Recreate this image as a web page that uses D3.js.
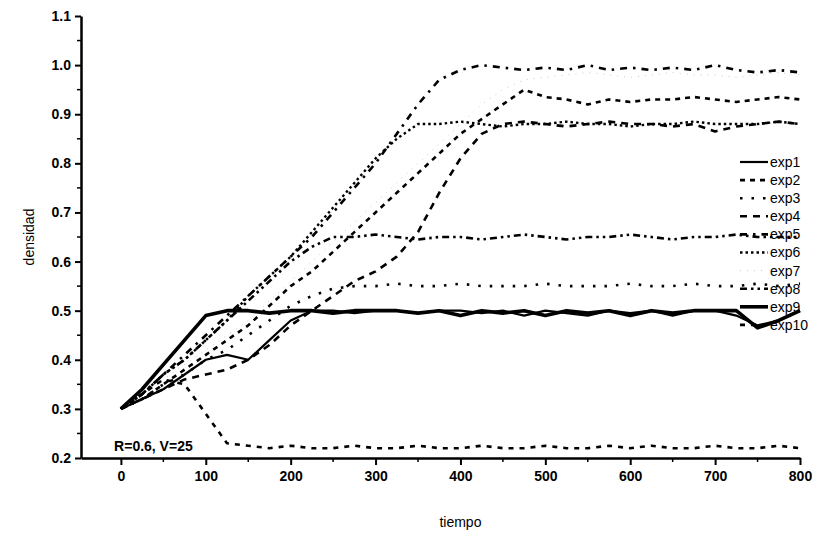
<!DOCTYPE html>
<html>
<head>
<meta charset="utf-8">
<script src="https://cdn.jsdelivr.net/npm/d3@7"></script>
<style>
  body { margin: 0; background: #fff; }
  svg text { font-family: "Liberation Sans", Arial, sans-serif; fill: #000; }
  .tick-label { font-size: 14px; font-weight: bold; }
  .axis-title { font-size: 14px; }
  .legend-label { font-size: 14px; }
</style>
</head>
<body>
<div id="chart"></div>
<script>
// Data (tiempo on x, densidad on y)
const tiempo = [0,25,50,75,100,125,150,175,200,225,250,275,300,325,350,375,400,
  425,450,475,500,525,550,575,600,625,650,675,700,725,750,775,800];

const exp1 = [0.30,0.32,0.34,0.37,0.40,0.41,0.40,0.44,0.48,0.50,0.50,0.495,0.50,0.50,0.495,0.50,0.50,
  0.495,0.50,0.49,0.50,0.495,0.49,0.50,0.495,0.50,0.49,0.50,0.50,0.49,0.47,0.48,0.50];
const exp2 = [0.30,0.32,0.35,0.38,0.41,0.44,0.47,0.51,0.55,0.58,0.62,0.66,0.70,0.74,0.78,0.82,0.86,
  0.89,0.92,0.95,0.935,0.93,0.92,0.93,0.925,0.93,0.93,0.935,0.93,0.925,0.93,0.935,0.93];
const exp3 = [0.30,0.32,0.35,0.37,0.40,0.42,0.45,0.48,0.51,0.53,0.545,0.55,0.55,0.555,0.55,0.55,0.555,
  0.55,0.55,0.55,0.555,0.55,0.55,0.55,0.555,0.55,0.55,0.555,0.55,0.55,0.555,0.55,0.555];
const exp4 = [0.30,0.32,0.34,0.36,0.37,0.38,0.40,0.43,0.47,0.50,0.53,0.56,0.58,0.61,0.66,0.74,0.81,
  0.86,0.88,0.885,0.88,0.875,0.88,0.885,0.88,0.88,0.875,0.88,0.865,0.875,0.88,0.885,0.88];
const exp5 = [0.30,0.33,0.37,0.41,0.45,0.49,0.53,0.57,0.61,0.65,0.70,0.75,0.80,0.86,0.92,0.97,0.99,
  1.0,0.995,0.99,0.995,0.99,1.0,0.99,0.995,0.99,0.995,0.99,1.0,0.99,0.985,0.99,0.985];
const exp6 = [0.30,0.33,0.37,0.40,0.44,0.48,0.53,0.57,0.61,0.66,0.71,0.76,0.81,0.85,0.88,0.88,0.885,
  0.88,0.875,0.88,0.88,0.885,0.88,0.88,0.875,0.88,0.88,0.885,0.88,0.88,0.88,0.885,0.88];
const exp7 = [0.30,0.33,0.36,0.39,0.42,0.45,0.48,0.52,0.56,0.60,0.64,0.68,0.72,0.76,0.80,0.84,0.88,
  0.92,0.95,0.97,0.975,0.98,0.985,0.98,0.975,0.98,0.985,0.98,0.98,0.975,0.98,0.985,0.98];
const exp8 = [0.30,0.33,0.37,0.40,0.44,0.48,0.52,0.56,0.60,0.63,0.65,0.65,0.655,0.65,0.645,0.65,0.65,
  0.645,0.65,0.655,0.65,0.645,0.65,0.65,0.655,0.65,0.645,0.65,0.65,0.655,0.65,0.65,0.65];
const exp9 = [0.30,0.34,0.39,0.44,0.49,0.50,0.50,0.495,0.50,0.50,0.495,0.50,0.50,0.50,0.495,0.50,0.49,
  0.50,0.495,0.50,0.49,0.50,0.495,0.50,0.49,0.50,0.495,0.50,0.50,0.50,0.465,0.48,0.50];
const exp10 = [0.30,0.33,0.36,0.35,0.29,0.23,0.225,0.22,0.225,0.22,0.22,0.225,0.22,0.22,0.225,0.22,0.22,
  0.225,0.22,0.22,0.225,0.22,0.22,0.225,0.22,0.225,0.22,0.22,0.225,0.22,0.22,0.225,0.22];

const seriesNames = ["exp1","exp2","exp3","exp4","exp5","exp6","exp7","exp8","exp9","exp10"];
const seriesValues = [exp1, exp2, exp3, exp4, exp5, exp6, exp7, exp8, exp9, exp10];

const xTicks = [0,100,200,300,400,500,600,700,800];
const yTicks = [0.2,0.3,0.4,0.5,0.6,0.7,0.8,0.9,1.0,1.1];
const annotation = "R=0.6, V=25";

// Line styles per series (dash pattern, width, colour)
const styles = [
  {dash: null,      width: 2.2, color: "#000"},
  {dash: "5,5",     width: 2.6, color: "#000"},
  {dash: "2.5,9",   width: 2.6, color: "#000"},
  {dash: "7,6",     width: 2.6, color: "#000"},
  {dash: "7,6,2.5,6", width: 2.6, color: "#000"},
  {dash: "2.5,3",   width: 2.4, color: "#000"},
  {dash: "1,6",     width: 0.8, color: "#bbb"},
  {dash: "7,4,2.5,4,2.5,4", width: 2.6, color: "#000"},
  {dash: null,      width: 3.6, color: "#000"},
  {dash: "5,6",     width: 2.6, color: "#000"}
];

const width = 829;
const height = 543;

const svg = d3.select("#chart")
  .append("svg")
    .attr("width", width)
    .attr("height", height);

// Scales
const xScale = d3.scaleLinear()
  .domain([-47, 800])
  .range([81, 800]);
const yScale = d3.scaleLinear()
  .domain([0.2, 1.1])
  .range([458, 16]);

// Series
const lineGenerator = d3.line()
  .x((d, i) => xScale(tiempo[i]))
  .y(d => yScale(d));

const plot = svg.append("g");
seriesValues.forEach((vals, i) => {
  plot.append("path")
    .attr("d", lineGenerator(vals))
    .attr("fill", "none")
    .attr("stroke", styles[i].color)
    .attr("stroke-width", styles[i].width)
    .attr("stroke-dasharray", styles[i].dash)
    .attr("stroke-linejoin", "round");
});

// Bottom axis
const bottomAxis = d3.axisBottom(xScale)
  .tickValues(xTicks)
  .tickSize(7)
  .tickSizeOuter(0)
  .tickPadding(6)
  .tickFormat(d3.format("d"));
const gx = svg.append("g")
  .attr("transform", `translate(0, ${yScale(0.2)})`)
  .call(bottomAxis);
gx.select(".domain").attr("stroke-width", 2.5);
gx.selectAll(".tick line").attr("stroke-width", 2);
gx.selectAll(".tick text").attr("class", "tick-label").attr("font-family", null).attr("font-size", null);
gx.selectAll(".minor")
  .data(xTicks.slice(0, -1).map(d => d + 50))
  .join("line")
    .attr("x1", d => xScale(d))
    .attr("x2", d => xScale(d))
    .attr("y1", 0)
    .attr("y2", 4)
    .attr("stroke", "#000")
    .attr("stroke-width", 1.5);

// Left axis
const leftAxis = d3.axisLeft(yScale)
  .tickValues(yTicks)
  .tickSize(6)
  .tickSizeOuter(0)
  .tickPadding(4)
  .tickFormat(d3.format(".1f"));
const gy = svg.append("g")
  .attr("transform", `translate(${xScale(-47)}, 0)`)
  .call(leftAxis);
gy.select(".domain").attr("stroke-width", 2.5);
gy.selectAll(".tick line").attr("stroke-width", 2);
gy.selectAll(".tick text").attr("class", "tick-label").attr("font-family", null).attr("font-size", null);
gy.selectAll(".minor")
  .data(yTicks.slice(0, -1).map(d => d + 0.05))
  .join("line")
    .attr("x1", 0)
    .attr("x2", -4)
    .attr("y1", d => yScale(d))
    .attr("y2", d => yScale(d))
    .attr("stroke", "#000")
    .attr("stroke-width", 1.5);

// Axis titles
svg.append("text")
  .attr("class", "axis-title")
  .attr("text-anchor", "middle")
  .attr("transform", `translate(34, ${yScale(0.65)}) rotate(-90)`)
  .text("densidad");
svg.append("text")
  .attr("class", "axis-title")
  .attr("text-anchor", "middle")
  .attr("x", xScale(400))
  .attr("y", 527)
  .text("tiempo");

// Annotation
svg.append("text")
  .attr("class", "tick-label")
  .attr("x", xScale(-8))
  .attr("y", 451)
  .attr("font-size", 13)
  .text(annotation);

// Legend
const legend = svg.append("g").attr("transform", "translate(740, 162)");
seriesNames.forEach((name, i) => {
  const row = legend.append("g").attr("transform", `translate(0, ${i * 18.1})`);
  row.append("line")
    .attr("x1", 0).attr("x2", 28)
    .attr("y1", 0).attr("y2", 0)
    .attr("stroke", styles[i].color)
    .attr("stroke-width", styles[i].width)
    .attr("stroke-dasharray", styles[i].dash);
  row.append("text")
    .attr("class", "legend-label")
    .attr("x", 30)
    .attr("dy", "0.35em")
    .text(name);
});
</script>
</body>
</html>
